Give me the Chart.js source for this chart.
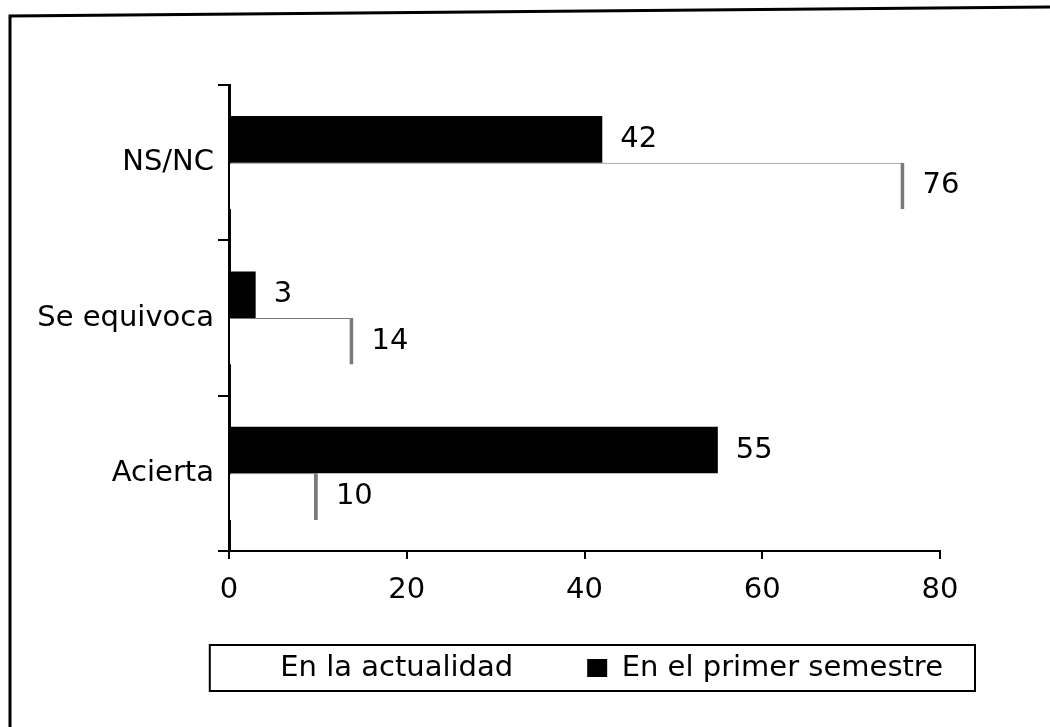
<!DOCTYPE html>
<html>
<head>
<meta charset="utf-8">
<script src="https://cdn.jsdelivr.net/npm/chart.js@4.4.0/dist/chart.umd.min.js"></script>
<style>
  html, body { margin: 0; padding: 0; background: #fff; }
  #wrap { width: 1050px; height: 727px; }
</style>
</head>
<body>
<div id="wrap"><canvas id="myChart" width="1050" height="727"></canvas></div>
<script>
// data
const categories = ['NS/NC', 'Se equivoca', 'Acierta'];
const primerSemestre = [42, 3, 55];
const actualidad = [76, 14, 10];
const xTicks = [0, 20, 40, 60, 80];
const seriesNames = ['En el primer semestre', 'En la actualidad'];

Chart.defaults.font.family = "'DejaVu Sans', Verdana, sans-serif";
Chart.defaults.font.size = 29;
Chart.defaults.color = '#000';

// page frame (scanned border, top edge slightly tilted)
const framePlugin = {
  id: 'frame',
  beforeDraw(chart) {
    const ctx = chart.ctx;
    ctx.save();
    ctx.fillStyle = '#fff';
    ctx.fillRect(0, 0, chart.width, chart.height);
    ctx.strokeStyle = '#000';
    ctx.lineWidth = 3;
    ctx.beginPath();
    ctx.moveTo(10, 727);
    ctx.lineTo(10, 16);
    ctx.lineTo(1050, 7);
    ctx.stroke();
    ctx.restore();
  }
};

// value next to the end of every bar
const valueLabels = {
  id: 'valueLabels',
  afterDatasetsDraw(chart) {
    const ctx = chart.ctx;
    ctx.save();
    ctx.font = "29px 'DejaVu Sans'";
    ctx.fillStyle = '#000';
    ctx.textAlign = 'left';
    ctx.textBaseline = 'middle';
    chart.data.datasets.forEach((ds, i) => {
      chart.getDatasetMeta(i).data.forEach((bar, j) => {
        ctx.fillText(ds.data[j], bar.x + 18, bar.y);
      });
    });
    ctx.restore();
  }
};

// rectangle round the legend
const legendBox = {
  id: 'legendBox',
  afterDraw(chart) {
    const boxes = chart.legend.legendHitBoxes;
    if (!boxes || !boxes.length) return;
    let l = Infinity, r = -Infinity, cy = 0;
    boxes.forEach(b => {
      l = Math.min(l, b.left);
      r = Math.max(r, b.left + b.width);
      cy = b.top + b.height / 2;
    });
    const ctx = chart.ctx;
    ctx.save();
    ctx.strokeStyle = '#000';
    ctx.lineWidth = 2;
    ctx.strokeRect(l - 36, cy - 23, (r + 32) - (l - 36), 46);
    ctx.restore();
  }
};

const ctx = document.getElementById('myChart').getContext('2d');
new Chart(ctx, {
  type: 'bar',
  data: {
    labels: categories,
    datasets: [
      {
        label: seriesNames[0],
        data: primerSemestre,
        backgroundColor: '#000',
        borderWidth: 0
      },
      {
        label: seriesNames[1],
        data: actualidad,
        backgroundColor: '#fff',
        borderColor: '#7a7a7a',
        borderWidth: { top: 1, right: 4, bottom: 0, left: 0 },
        borderSkipped: false
      }
    ]
  },
  options: {
    indexAxis: 'y',
    responsive: false,
    animation: false,
    devicePixelRatio: 1,
    categoryPercentage: 0.6,
    barPercentage: 1,
    layout: { padding: { left: 25, right: 33, top: 85, bottom: 34.5 } },
    scales: {
      x: {
        min: 0,
        max: 80,
        afterBuildTicks: s => { s.ticks = xTicks.map(v => ({ value: v })); },
        afterFit: s => { s.height = 28.5; s.paddingRight = 110; s.paddingLeft = 0; },
        // mirror keeps the labels from being clipped to the short axis box
        ticks: { mirror: true, padding: -57, color: '#000' },
        grid: { drawOnChartArea: false, tickLength: 8, color: '#000', lineWidth: 2 },
        border: { color: '#000', width: 2 }
      },
      y: {
        afterFit: s => { s.width = 204; s.paddingTop = 0; s.paddingBottom = 0; },
        ticks: { padding: 4, color: '#000' },
        grid: { drawOnChartArea: false, offset: true, tickLength: 11, color: '#000', lineWidth: 2 },
        border: { color: '#000', width: 3 }
      }
    },
    plugins: {
      tooltip: { enabled: false },
      legend: {
        position: 'bottom',
        align: 'end',
        reverse: true,
        labels: {
          boxWidth: 20,
          boxHeight: 18,
          padding: 74,
          font: { size: 29 },
          color: '#000',
          generateLabels(chart) {
            const items = Chart.defaults.plugins.legend.labels.generateLabels(chart);
            items.forEach(it => { it.lineWidth = 0; it.strokeStyle = 'rgba(0,0,0,0)'; });
            return items;
          }
        }
      }
    }
  },
  plugins: [framePlugin, valueLabels, legendBox]
});
</script>
</body>
</html>
